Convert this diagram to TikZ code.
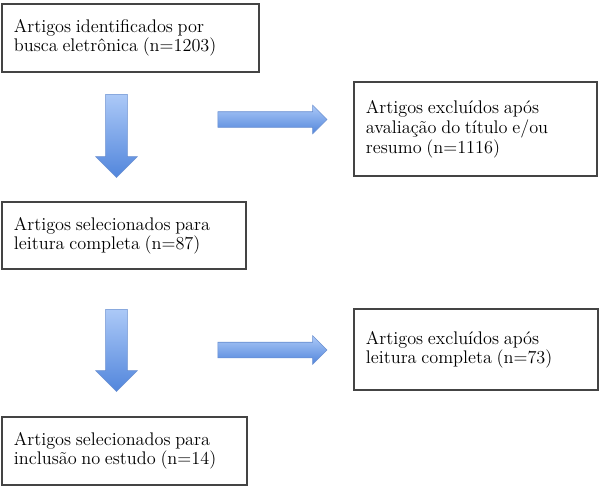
\documentclass[tikz,border=0pt]{standalone}
\usepackage{fontspec}
\usepackage{tikz}
\usetikzlibrary{shapes.arrows}
\definecolor{ArrowLight}{RGB}{172, 201, 247}
\definecolor{ArrowDark}{RGB}{82, 134, 220}
\definecolor{ArrowEdge}{RGB}{104, 142, 208}
\definecolor{BoxEdge}{RGB}{68, 68, 68}

\begin{document}
\begin{tikzpicture}[x=0.025cm, y=-0.025cm,
    caixa/.style={draw=BoxEdge, line width=0.8pt, inner xsep=0.3cm, inner ysep=0pt, align=left},
    seta/.style={single arrow, draw=ArrowEdge, line width=0.4pt, top color=ArrowLight, bottom color=ArrowDark, single arrow tip angle=90}]
    \useasboundingbox (0,0) rectangle (600,488);
    % caixas da esquerda
    \draw (130.5,38) node[caixa, text width=5.825cm, minimum height=1.7cm] (ident){
        {\fontsize{13}{14.2}\selectfont
    Artigos identificados por\\busca eletrônica (n=1203)
        }
    };
    \draw (124,235.5) node[caixa, text width=5.5cm, minimum height=1.675cm] (leitura){
        {\fontsize{13}{14.2}\selectfont
    Artigos selecionados para\\leitura completa (n=87)
        }
    };
    \draw (124.5,451) node[caixa, text width=5.525cm, minimum height=1.7cm] (inclusao){
        {\fontsize{13}{14.2}\selectfont
    Artigos selecionados para\\inclusão no estudo (n=14)
        }
    };
    % caixas da direita
    \draw (475.5,129) node[caixa, text width=5.475cm, minimum height=2.35cm] (excl1){
        {\fontsize{13}{14.2}\selectfont
    Artigos excluídos após\\avaliação do título e/ou\\resumo (n=1116)
        }
    };
    \draw (476,349.5) node[caixa, text width=5.5cm, minimum height=2.025cm] (excl2){
        {\fontsize{13}{14.2}\selectfont
    Artigos excluídos após\\leitura completa (n=73)
        }
    };
    % setas
    \draw (116.5,130.5) node[seta, shape border rotate=270, inner sep=0.2625cm, minimum height=2.075cm, minimum width=1.025cm, single arrow head extend=0.25cm] (desce1){};
    \draw (116.5,345) node[seta, shape border rotate=270, inner sep=0.2625cm, minimum height=2.05cm, minimum width=1.025cm, single arrow head extend=0.25cm] (desce2){};
    \draw (268.5,119.5) node[seta, inner sep=0.1875cm, minimum height=2.725cm, minimum width=0.7cm, single arrow head extend=0.1625cm] (lado1){};
    \draw (268.5,350) node[seta, inner sep=0.1875cm, minimum height=2.725cm, minimum width=0.7cm, single arrow head extend=0.1625cm] (lado2){};
\end{tikzpicture}
\end{document}
